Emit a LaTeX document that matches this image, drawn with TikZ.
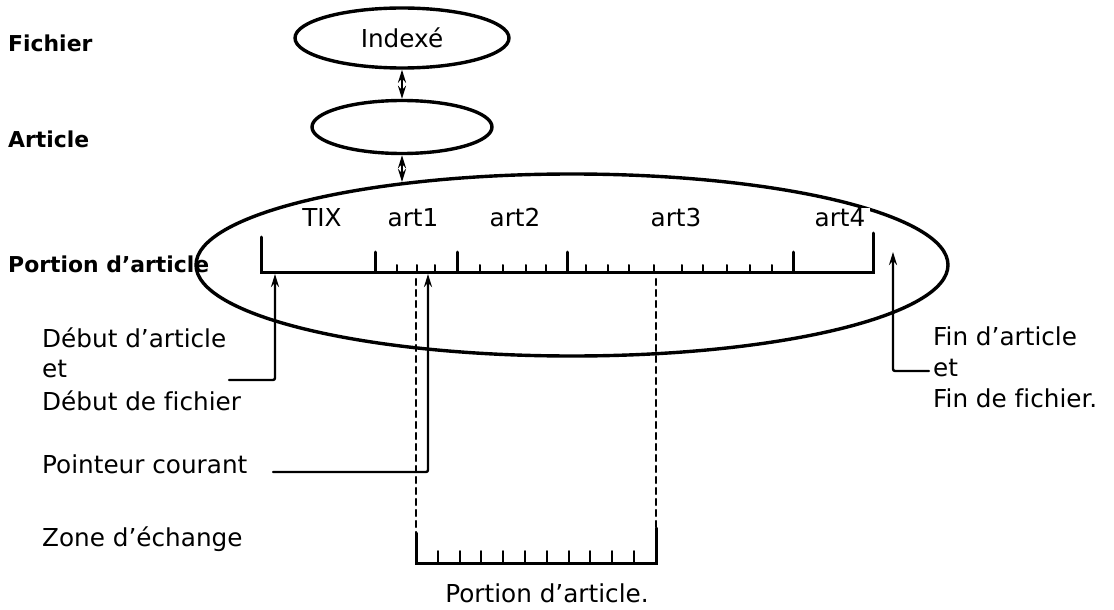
\documentclass[tikz,border=0pt]{standalone}
\usepackage{fontspec}
\setmainfont{DejaVu Sans}[Ligatures={TeX,NoCommon}]
\usetikzlibrary{positioning,shapes.geometric,arrows.meta}

\begin{document}
\begin{tikzpicture}[x=1pt,y=-1pt,>={Stealth[length=13pt,width=8pt]},line cap=round]
\tikzstyle{txt}=[font=\fontsize{24.7}{30}\selectfont,inner sep=0pt,anchor=base west]
\tikzstyle{level}=[font=\fontsize{21.9}{26}\selectfont\bfseries,inner sep=0pt,anchor=base west]
\tikzstyle{tag}=[font=\fontsize{24.7}{30}\selectfont,inner sep=0pt,anchor=base]
\tikzstyle{set}=[ellipse,draw,line width=3.4pt,inner sep=0pt,font=\fontsize{24.7}{30}\selectfont]
\tikzstyle{ptr}=[->,line width=2.4pt,rounded corners=2pt]
\tikzstyle{ruler}=[line width=3pt]
\tikzstyle{tick}=[line width=2pt]
\tikzstyle{guide}=[line width=2.2pt,dash pattern=on 6pt off 5pt]
\useasboundingbox (0,0) rectangle (1114,610);
% niveaux
\node[level] (fichier) at (8,52) {Fichier};
\node[level] (article) at (8,147) {Article};
\node[level] (portion) at (8,272) {Portion d'article};
% ensembles
\node[set,minimum width=214pt,minimum height=60pt] (idx) at (402,38) {Indexé};
\node[set,minimum width=180pt,minimum height=53pt] (art) at (402,127) {};
\node[set,minimum width=752pt,minimum height=182pt] (big) at (572,265) {};
\coordinate (bigtop) at (402,182);
\draw[<->,line width=2.4pt] (idx.south) -- (art.north);
\draw[<->,line width=2.4pt] (art.south) -- (bigtop);
% articles
\node[tag] (tix) at (322,226) {TIX};
\node[tag] (a1) at (413,226) {art1};
\node[tag] (a2) at (515,226) {art2};
\node[tag] (a3) at (676,226) {art3};
\node[tag,fill=white,inner xsep=5pt] (a4) at (840,226) {art4};
% portion d'article du fichier
\draw[ruler] (261,237) -- (261,272) -- (873,272) -- (873,233);
\foreach \x in {375,457,567,793}
  \draw[ruler] (\x,272) -- (\x,252);
\foreach \x in {397,417,435,480,503,526,546,586,608,629,654,682,703,727,750,772}
  \draw[tick] (\x,272) -- (\x,265);
% zone d'echange
\draw[ruler] (416,533) -- (416,563) -- (656,563) -- (656,528);
\foreach \k in {1,...,10}
  \draw[tick] ({416+21.8*\k},563) -- ({416+21.8*\k},551);
\draw[guide] (416,279) -- (416,533);
\draw[guide] (656,279) -- (656,528);
\node[tag] (zone) at (547,602) {Portion d'article.};
% pointeurs
\node[txt] (deb1) at (42,347) {Début d'article};
\node[txt] (deb2) at (42,377) {et};
\node[txt] (deb3) at (42,410) {Début de fichier};
\node[txt] (cour) at (42,473) {Pointeur courant};
\node[txt] (ech) at (42,546) {Zone d'échange};
\node[txt] (fin1) at (933,345) {Fin d'article};
\node[txt] (fin2) at (933,376) {et};
\node[txt] (fin3) at (933,407) {Fin de fichier.};
\coordinate (debpied) at (229,380);
\coordinate (debut) at (275,274);
\coordinate (courpied) at (273,472);
\coordinate (courant) at (428,274);
\coordinate (finpied) at (929,371);
\coordinate (fin) at (893,252);
\draw[ptr] (debpied) -- (debpied -| debut) -- (debut);
\draw[ptr] (courpied) -- (courpied -| courant) -- (courant);
\draw[ptr] (finpied) -- (finpied -| fin) -- (fin);
\end{tikzpicture}
\end{document}
